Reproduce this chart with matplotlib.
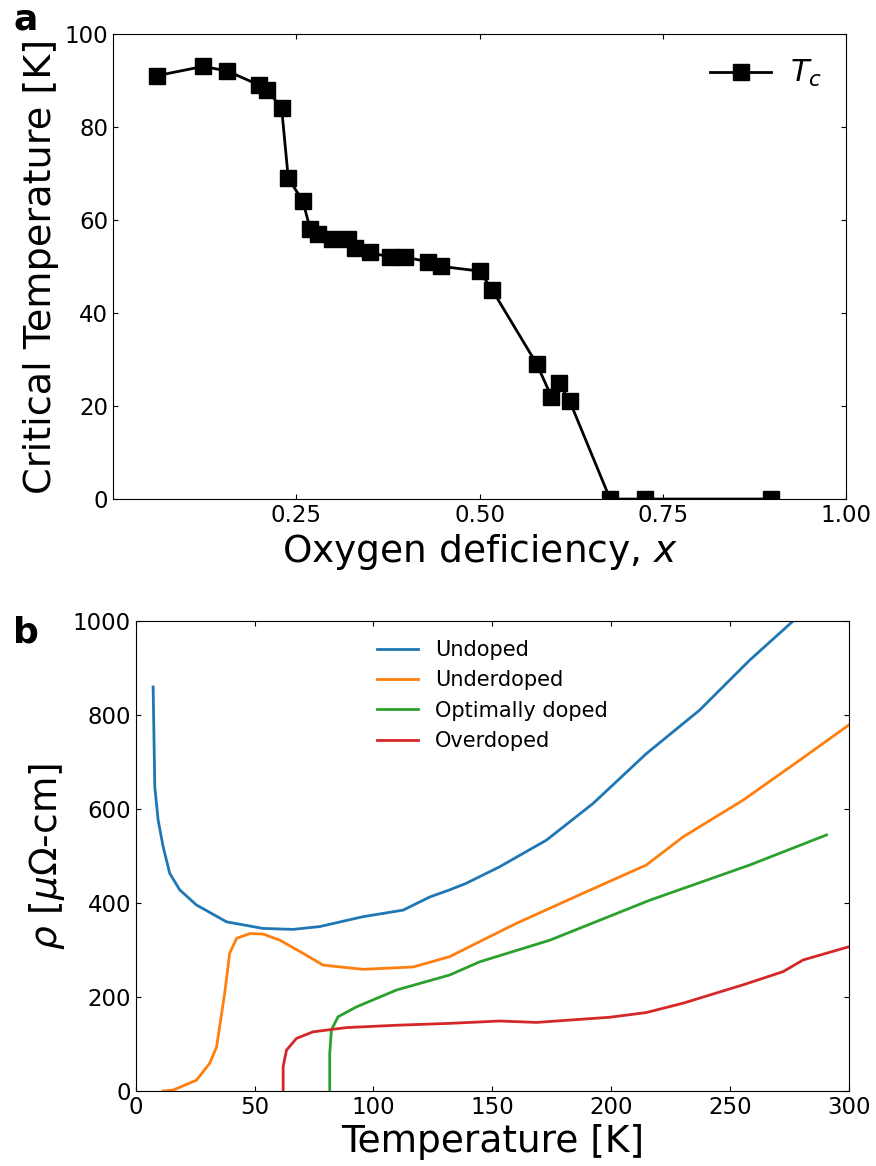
import matplotlib
matplotlib.use("Agg")
import matplotlib.pyplot as plt
import numpy as np

# panel a: critical temperature vs oxygen deficiency
x_def = [0.06, 0.123, 0.156, 0.199, 0.21, 0.23, 0.239, 0.259, 0.269, 0.28,
         0.298, 0.321, 0.33, 0.35, 0.378, 0.398, 0.43, 0.448, 0.50, 0.517,
         0.578, 0.598, 0.608, 0.623, 0.678, 0.726, 0.898]
tc = [91, 93, 92, 89, 88, 84, 69, 64, 58, 57,
      56, 56, 54, 53, 52, 52, 51, 50, 49, 45,
      29, 22, 25, 21, 0, 0, 0]

# panel b: resistivity curves
t_undoped = [7.3, 8.0, 9.4, 11.5, 14.3, 18.5, 25.5, 38.2, 53.6, 66.2, 77.4,
             95.6, 112.5, 123.7, 132, 139, 153, 172.8, 192.4, 214.8, 237.3,
             258.3, 276.5]
r_undoped = [860, 647, 577, 520, 463, 428, 396, 360, 346, 344, 350,
             371, 385, 413, 428, 442, 477, 534, 612, 718, 811,
             917, 1000]

t_under = [11.5, 15.7, 25.5, 31.1, 34, 37.4, 39.5, 42.4, 48, 53.6, 60.6,
           70.4, 78.8, 95.6, 116.7, 132.1, 144.7, 160.2, 188.2, 214.8,
           230.3, 255.5, 279.3, 300]
r_under = [0, 2, 23, 59, 94, 208, 293, 325, 335, 334, 321,
           293, 268, 259, 264, 286, 318, 357, 421, 481,
           541, 619, 704, 779]

t_opt = [81.6, 81.6, 82.3, 85.1, 92.8, 109.7, 132.1, 144.7, 174.2, 216.2,
         258.3, 290.6]
r_opt = [0, 80, 130, 158, 179, 215, 247, 275, 321, 406,
         481, 545]

t_over = [62, 62, 63.4, 67.6, 74.6, 88.6, 109.7, 132.1, 153.1, 168.6,
          199.4, 214.8, 230.3, 255.5, 272.3, 280.8, 300]
r_over = [0, 52, 87, 112, 126, 135, 140, 144, 149, 146,
          157, 167, 187, 226, 254, 279, 307]

fig = plt.figure(figsize=(8.76, 11.66), dpi=100)

ax1 = fig.add_axes([0.129, 0.572, 0.837, 0.399])
ax1.plot(x_def, tc, color='black', lw=2, marker='s', ms=11, label='$T_c$')
ax1.set_xlim(0, 1)
ax1.set_ylim(0, 100)
ax1.set_xticks([0.25, 0.5, 0.75, 1.0])
ax1.set_yticks([0, 20, 40, 60, 80, 100])
ax1.tick_params(direction='in', top=True, right=True, labelsize=16.5)
ax1.set_xlabel('Oxygen deficiency, $x$', fontsize=27)
ax1.set_ylabel('Critical Temperature [K]', fontsize=27.5)
ax1.legend(loc='upper right', frameon=False, fontsize=22,
           borderaxespad=0.4, handletextpad=0.6)

ax2 = fig.add_axes([0.155, 0.0643, 0.814, 0.403])
ax2.plot(t_undoped, r_undoped, color='tab:blue', lw=2, label='Undoped')
ax2.plot(t_under, r_under, color='tab:orange', lw=2, label='Underdoped')
ax2.plot(t_opt, r_opt, color='tab:green', lw=2, label='Optimally doped')
ax2.plot(t_over, r_over, color='tab:red', lw=2, label='Overdoped')
ax2.set_xlim(0, 300)
ax2.set_ylim(0, 1000)
ax2.set_xticks(np.arange(0, 301, 50))
ax2.set_yticks(np.arange(0, 1001, 200))
ax2.tick_params(direction='in', top=True, right=True, labelsize=16.5)
ax2.set_xlabel('Temperature [K]', fontsize=27)
ax2.set_ylabel(r'$\rho$ [$\mu\Omega$-cm]', fontsize=27)
ax2.legend(loc='upper center', frameon=False, fontsize=15)

fig.text(0.015, 0.998, 'a', fontsize=26, fontweight='bold', va='top')
fig.text(0.015, 0.472, 'b', fontsize=26, fontweight='bold', va='top')

fig.savefig('out.png', dpi=100)
